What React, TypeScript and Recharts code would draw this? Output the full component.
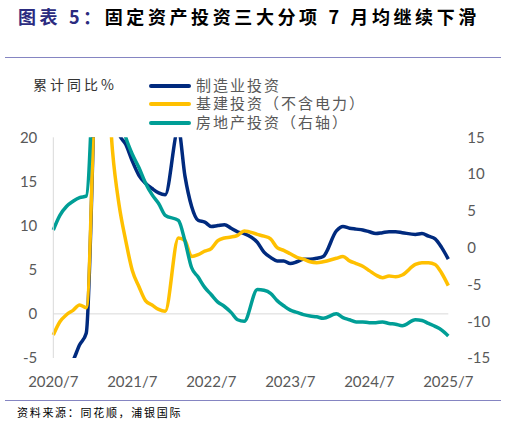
import { LineChart, Line, XAxis, YAxis, ReferenceLine } from 'recharts'

// 月份（1-2月合并公布，故无1月）
const MONTHS = [
  '2020/7', '2020/8', '2020/9', '2020/10', '2020/11', '2020/12',
  '2021/2', '2021/3', '2021/4', '2021/5', '2021/6', '2021/7', '2021/8', '2021/9', '2021/10', '2021/11', '2021/12',
  '2022/2', '2022/3', '2022/4', '2022/5', '2022/6', '2022/7', '2022/8', '2022/9', '2022/10', '2022/11', '2022/12',
  '2023/2', '2023/3', '2023/4', '2023/5', '2023/6', '2023/7', '2023/8', '2023/9', '2023/10', '2023/11', '2023/12',
  '2024/2', '2024/3', '2024/4', '2024/5', '2024/6', '2024/7', '2024/8', '2024/9', '2024/10', '2024/11', '2024/12',
  '2025/2', '2025/3', '2025/4', '2025/5', '2025/6', '2025/7',
]

// 制造业投资 累计同比%
const MFG = [
  -10.2, -8.1, -6.5, -5.3, -3.5, -2.2,
  37.3, 29.8, 23.8, 20.4, 19.2, 17.3, 15.7, 14.8, 14.2, 13.7, 13.5,
  20.9, 15.6, 12.2, 10.6, 10.4, 9.9, 10.0, 10.1, 9.7, 9.3, 9.1,
  8.1, 7.0, 6.4, 6.0, 6.0, 5.7, 5.9, 6.2, 6.2, 6.3, 6.5,
  9.4, 9.9, 9.7, 9.6, 9.5, 9.3, 9.1, 9.2, 9.3, 9.3, 9.2,
  9.0, 9.1, 8.8, 8.5, 7.5, 6.2,
]

// 基建投资（不含电力）
const INFRA = [
  -2.4, -0.9, -0.1, 0.4, 1.0, 0.7,
  36.6, 29.7, 18.4, 12.3, 8.3, 4.9, 3.1, 1.5, 1.0, 0.5, 0.3,
  8.6, 8.3, 6.5, 6.7, 7.1, 7.4, 8.3, 8.6, 8.7, 8.9, 9.4,
  9.0, 8.8, 8.5, 7.5, 7.2, 6.8, 6.4, 6.2, 5.9, 5.8, 5.9,
  6.3, 6.5, 6.0, 5.7, 5.4, 4.9, 4.4, 4.1, 4.3, 4.2, 4.4,
  5.6, 5.8, 5.8, 5.6, 4.6, 3.2,
]

// 房地产投资（右轴）
const REALTY = [
  2.4, 4.4, 5.6, 6.3, 6.8, 7.0,
  38.3, 25.6, 21.6, 18.3, 15.0, 12.7, 10.9, 8.8, 7.2, 6.0, 4.4,
  3.7, 0.9, -2.7, -4.0, -5.4, -6.4, -7.4, -8.0, -8.8, -9.8, -10.0,
  -5.7, -5.8, -6.2, -7.2, -7.9, -8.5, -8.8, -9.1, -9.3, -9.4, -9.6,
  -9.0, -9.5, -9.8, -10.1, -10.1, -10.2, -10.2, -10.1, -10.3, -10.4, -10.6,
  -9.8, -9.9, -10.3, -10.7, -11.2, -12.0,
]

const X_TICKS = ['2020/7', '2021/7', '2022/7', '2023/7', '2024/7', '2025/7']
const LEFT_TICKS = [-5, 0, 5, 10, 15, 20]
const RIGHT_TICKS = [-15, -10, -5, 0, 5, 10, 15]

const SERIES = [
  { key: 'mfg', label: '制造业投资', color: '#002A7E', axis: 'left' },
  { key: 'infra', label: '基建投资（不含电力）', color: '#FFC000', axis: 'left' },
  { key: 'realty', label: '房地产投资（右轴）', color: '#009E96', axis: 'right' },
] as const

const monthIndex = (label: string) => {
  const [y, m] = label.split('/').map(Number)
  return (y - 2020) * 12 + (m - 7)
}

const data = MONTHS.map((label, i) => ({
  label,
  t: monthIndex(label),
  mfg: MFG[i],
  infra: INFRA[i],
  realty: REALTY[i],
}))

const tickStyle = { fontSize: 15, fill: '#595959', fontFamily: 'Lato, "Open Sans", sans-serif' }
const cjk = '"Noto Sans CJK SC", "Noto Sans", sans-serif'
// 图例行距较紧，用度量较小的主字体，汉字回落到 Noto Sans CJK
const legendFont = '"Liberation Sans", "Noto Sans CJK SC", sans-serif'

export default function App() {
  return (
    <div style={{ position: 'absolute', left: 0, top: 0, width: 506, height: 426, background: '#fff', fontFamily: cjk }}>
      <div style={{ position: 'absolute', left: 18, top: 4, fontSize: 18, fontWeight: 700, letterSpacing: 3.6, lineHeight: '24px', whiteSpace: 'nowrap', color: '#000' }}>
        <span style={{ color: '#2B2B80' }}>图表 5：</span>固定资产投资三大分项 7 月均继续下滑
      </div>
      <div style={{ position: 'absolute', left: 5, top: 56.5, width: 496, height: 1.3, background: '#8585C2' }} />

      <div style={{ position: 'absolute', left: 33, top: 74, fontSize: 14, letterSpacing: 3, lineHeight: '20px', color: '#333', whiteSpace: 'nowrap' }}>
        累计同比%
      </div>

      {SERIES.map((s, i) => (
        <div key={s.key} style={{ position: 'absolute', left: 149, top: 77 + i * 18.3, height: 18, display: 'flex', alignItems: 'center', whiteSpace: 'nowrap' }}>
          <div style={{ width: 42, height: 4, borderRadius: 2, background: s.color }} />
          <span style={{ marginLeft: 5, fontFamily: legendFont, fontSize: 15, letterSpacing: 2, color: '#595959', lineHeight: '18px' }}>{s.label}</span>
        </div>
      ))}

      <div style={{ position: 'absolute', left: 0, top: 0 }}>
        <LineChart width={506} height={426} data={data} margin={{ top: 137.3, right: 7.7, bottom: 38, left: 13.3 }}>
          <XAxis
            type="number"
            dataKey="t"
            domain={[0, 60]}
            ticks={X_TICKS.map(monthIndex)}
            tickFormatter={(v: number) => X_TICKS.find((l) => monthIndex(l) === v) ?? ''}
            interval={0}
            axisLine={false}
            tickLine={false}
            tickSize={0}
            tickMargin={18}
            height={30}
            tick={tickStyle}
          />
          <YAxis
            yAxisId="left"
            domain={[-5, 20]}
            ticks={LEFT_TICKS}
            allowDataOverflow
            width={40}
            axisLine={{ stroke: '#D9D9D9', strokeWidth: 1 }}
            tickLine={false}
            tickSize={0}
            tickMargin={16}
            tick={tickStyle}
          />
          <YAxis
            yAxisId="right"
            orientation="right"
            domain={[-15, 15]}
            ticks={RIGHT_TICKS}
            allowDataOverflow
            width={50}
            axisLine={false}
            tickLine={false}
            tickSize={0}
            tickMargin={19}
            tick={tickStyle}
          />
          <ReferenceLine yAxisId="left" y={0} stroke="#D9D9D9" strokeWidth={1} />
          {SERIES.map((s) => (
            <Line
              key={s.key}
              yAxisId={s.axis}
              type="monotone"
              dataKey={s.key}
              name={s.label}
              stroke={s.color}
              strokeWidth={3.5}
              dot={false}
              activeDot={false}
              isAnimationActive={false}
            />
          ))}
        </LineChart>
      </div>

      <div style={{ position: 'absolute', left: 5, top: 399.5, width: 496, height: 1.3, background: '#8585C2' }} />
      <div style={{ position: 'absolute', left: 17, top: 404, fontSize: 11, letterSpacing: 1.7, lineHeight: '16px', color: '#000', whiteSpace: 'nowrap' }}>
        资料来源：同花顺，浦银国际
      </div>
    </div>
  )
}
